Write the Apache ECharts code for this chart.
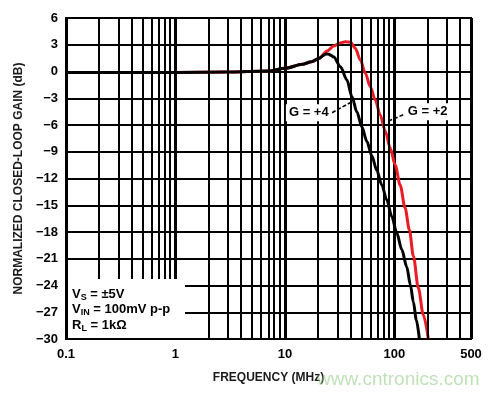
<!DOCTYPE html>
<html>
<head>
<meta charset="utf-8">
<script src="https://cdn.jsdelivr.net/npm/echarts@6/dist/echarts.min.js"></script>
<style>
html,body{margin:0;padding:0;background:#fff;}
#chart{width:500px;height:395px;}
</style>
</head>
<body>
<div id="chart"></div>
<script>
// ---- data (frequency in MHz, gain in dB) ----
const freqG2 = [0.1, 0.3, 1, 3, 7, 10.1, 14.4, 17.5, 20.4, 24.3, 27.9, 31.6, 35.6, 39.8, 43.9, 48.8, 54.2, 60.1, 66.8, 74.1, 82.3, 91.4, 101.5, 112.7, 125.1, 136.9, 148.8, 165.2, 183.5, 203.8];
const gainG2 = [-0.12, -0.12, -0.1, -0.07, 0.05, 0.36, 0.81, 1.1, 1.45, 2.3, 2.85, 3.2, 3.34, 3.28, 2.6, 1.29, -0.2, -1.7, -3.2, -4.88, -6.67, -8.58, -10.49, -12.73, -15.31, -17.78, -20.69, -24.28, -27.31, -30];

const freqG4 = [0.1, 0.3, 1, 3, 7, 10.1, 14.4, 17.5, 20.4, 22.1, 23.2, 24.3, 25.3, 26.2, 27.9, 32.1, 36.8, 40.9, 45.4, 50.4, 56.0, 62.2, 69.0, 76.6, 85.1, 94.5, 105, 116.5, 129.4, 139.8, 148.8, 158.5, 168.8];
const gainG4 = [-0.12, -0.12, -0.1, -0.07, 0.05, 0.36, 0.81, 1.1, 1.45, 1.75, 1.92, 1.97, 1.93, 1.82, 1.62, 0.54, -0.95, -2.83, -4.54, -6.22, -7.85, -9.48, -11.1, -12.73, -14.41, -16.26, -18.11, -19.96, -21.89, -23.94, -25.85, -27.87, -30];

const xTickValues = [0.1, 1, 10, 100, 500];
const xTickLabels = ['0.1', '1', '10', '100', '500'];
const minorGridFreqs = [0.2,0.3,0.4,0.5,0.6,0.7,0.8,0.9, 2,3,4,5,6,7,8,9, 20,30,40,50,60,70,80,90, 200,300,400];

const seriesNames = ['G = +2', 'G = +4'];
const annoText = [[16.5, -4.62, 'G = +4'], [201, -4.51, 'G = +2']];
const annoArrows = [[[26.9, -4.62], [40.9, -3.39]], [[120, -4.86], [85.1, -5.63]]];
const conditionLines = ['V_S = ±5V', 'V_IN = 100mV p-p', 'R_L = 1kΩ'];

// ---- build ----
const FONT = '"Liberation Sans", Arial, Helvetica, sans-serif';
const lg = Math.log10;
const toPts = (fs, gs) => fs.map((f, i) => [lg(f), gs[i]]);
const fmtMinus = v => (v < 0 ? '\u2212' + (-v) : String(v));

function richLine(s) {
  const m = s.match(/^(\w)_(\w+)(.*)$/);
  return '{m|' + m[1] + '}{s|' + m[2] + '}{m|' + m[3] + '}';
}

const chart = echarts.init(document.getElementById('chart'), null, {renderer: 'canvas'});
const option = {
  animation: false,
  backgroundColor: '#fff',
  grid: {left: 66, right: 29, top: 18, bottom: 56, show: true, borderColor: '#000', borderWidth: 2, backgroundColor: '#fff'},
  xAxis: {
    type: 'value', min: -1, max: lg(500), interval: 1,
    axisLine: {show: false}, axisTick: {show: false},
    splitLine: {show: true, lineStyle: {color: '#000', width: 3}},
    axisLabel: {
      fontFamily: FONT, fontWeight: 'bold', fontSize: 13, color: '#000', margin: 9,
      formatter: v => { const i = xTickValues.findIndex(t => Math.abs(lg(t) - v) < 1e-6); return i >= 0 ? xTickLabels[i] : ''; }
    },
    name: 'FREQUENCY (MHz)', nameLocation: 'middle', nameGap: 33,
    nameTextStyle: {fontFamily: FONT, fontWeight: 'bold', fontSize: 12, color: '#1a1a1a'}
  },
  yAxis: {
    type: 'value', min: -30, max: 6, interval: 3,
    axisLine: {show: false}, axisTick: {show: false},
    splitLine: {show: true, lineStyle: {color: '#000', width: 2}},
    axisLabel: {fontFamily: FONT, fontWeight: 'bold', fontSize: 13, color: '#000', margin: 8, formatter: fmtMinus},
    name: 'NORMALIZED CLOSED-LOOP GAIN (dB)', nameLocation: 'middle', nameGap: 40,
    nameTextStyle: {fontFamily: FONT, fontWeight: 'bold', fontSize: 12, color: '#1a1a1a'}
  },
  series: [
    {
      type: 'line', data: [], z: 1, silent: true,
      markLine: {
        silent: true, symbol: 'none', animation: false,
        label: {show: false},
        lineStyle: {color: '#000', width: 2, type: 'solid'},
        data: minorGridFreqs.map(f => ({xAxis: lg(f)}))
      }
    },
    {
      name: seriesNames[0], type: 'line', data: toPts(freqG2, gainG2), z: 3,
      showSymbol: false, smooth: 0.3, smoothMonotone: 'x',
      lineStyle: {color: '#ec1c24', width: 3}, itemStyle: {color: '#ec1c24'}
    },
    {
      name: seriesNames[1], type: 'line', data: toPts(freqG4, gainG4), z: 4,
      showSymbol: false, smooth: 0.3, smoothMonotone: 'x',
      lineStyle: {color: '#000', width: 3}, itemStyle: {color: '#000'}
    },
    {
      type: 'line', data: [], z: 6, silent: true,
      markLine: {
        silent: true, symbol: ['none', 'arrow'], symbolSize: [0, 10], animation: false,
        label: {show: false},
        lineStyle: {color: '#000', width: 1.6, type: [4, 2]},
        data: annoArrows.map(a => [{coord: [lg(a[0][0]), a[0][1]]}, {coord: [lg(a[1][0]), a[1][1]]}])
      },
      markPoint: {
        silent: true, symbol: 'rect', symbolSize: 1, animation: false,
        itemStyle: {color: 'rgba(0,0,0,0)'},
        label: {show: true, position: 'inside', formatter: '{b}', backgroundColor: '#fff', padding: [2, 3],
          fontFamily: FONT, fontWeight: 'bold', fontSize: 13, color: '#000'},
        data: annoText.map(a => ({name: a[2], coord: [lg(a[0]), a[1]]}))
      }
    }
  ],
  graphic: [
    {type: 'rect', shape: {x: 68, y: 279, width: 117, height: 59}, style: {fill: '#fff'}, z: 10, silent: true},
    {
      type: 'text', left: 72, top: 287, z: 11, silent: true,
      style: {
        text: conditionLines.map(richLine).join('\n'),
        fontFamily: FONT,
        rich: {
          m: {fontFamily: FONT, fontWeight: 'bold', fontSize: 13, lineHeight: 15.5, color: '#000'},
          s: {fontFamily: FONT, fontWeight: 'bold', fontSize: 9, lineHeight: 15.5, color: '#000', verticalAlign: 'bottom', padding: [6, 0, 0, 0]}
        }
      }
    },
    {
      type: 'text', left: 317, top: 370, z: 20, silent: true,
      style: {text: 'www.cntronics.com', fontFamily: FONT, fontSize: 19, fill: 'rgba(140,200,125,0.55)'}
    }
  ]
};
chart.setOption(option);
</script>
</body>
</html>
